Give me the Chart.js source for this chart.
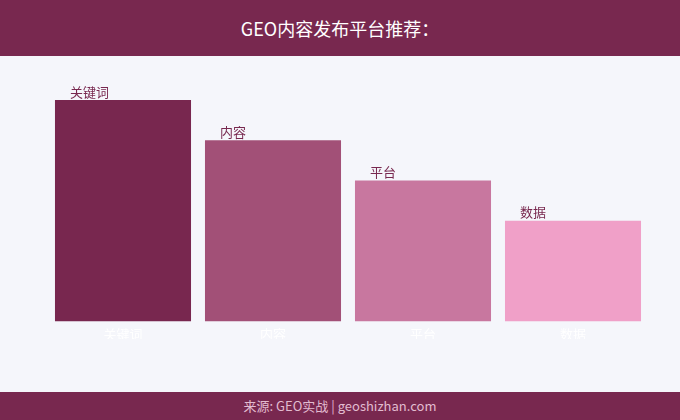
<!DOCTYPE html>
<html>
<head>
<meta charset="utf-8">
<script src="https://cdn.jsdelivr.net/npm/chart.js@4/dist/chart.umd.min.js"></script>
<style>
	html, body { margin: 0; padding: 0; }
	body { width: 680px; height: 420px; background: #f5f6fb; font-family: "Noto Sans CJK SC", "Noto Sans", sans-serif; position: relative; overflow: hidden; }
	.header { position: absolute; left: 0; top: 0; width: 680px; height: 56px; background: #78284f; color: #fff; font-size: 18px; line-height: 56px; text-align: center; }
	.footer { position: absolute; left: 0; top: 392px; width: 680px; height: 28px; background: #78284f; color: #e2bcd0; font-size: 13px; line-height: 28px; text-align: center; }
	.wrap { position: absolute; left: 0; top: 56px; width: 680px; height: 336px; }
</style>
</head>
<body>
<div class="header">GEO内容发布平台推荐：</div>
<div class="wrap"><canvas id="chart"></canvas></div>
<div class="footer">来源: GEO实战 | geoshizhan.com</div>
<script>
const categories = [ '关键词', '内容', '平台', '数据' ];
const scores = [ 5.5, 4.5, 3.5, 2.5 ];
const barColors = [ '#78274f', '#a25077', '#c8779f', '#f0a0c8' ];

// 柱子上方左对齐的标签
const barLabels = {
	id : 'barLabels',
	afterDatasetsDraw(chart) {
		const ctx = chart.ctx;
		const meta = chart.getDatasetMeta(0);
		ctx.save();
		ctx.font = '13px "Noto Sans CJK SC"';
		ctx.fillStyle = '#78284f';
		ctx.textAlign = 'left';
		ctx.textBaseline = 'bottom';
		meta.data.forEach((bar, i) => {
			ctx.fillText(categories[i], bar.x - bar.width / 2 + 15, bar.y - 2);
		});
		ctx.restore();
	}
};

let ctx = document.getElementById('chart').getContext('2d');
let barChart = new Chart(ctx, {
	type : 'bar',
	data : {
		labels : categories,
		datasets : [ {
			data : scores,
			backgroundColor : barColors,
			borderWidth : 0,
			categoryPercentage : 1,
			barPercentage : 0.907
		} ]
	},
	options : {
		responsive : true,
		maintainAspectRatio : false,
		animation : false,
		layout : { padding : { left : 48, right : 32, top : 24, bottom : 53 } },
		plugins : {
			legend : { display : false },
			tooltip : { enabled : false }
		},
		scales : {
			x : {
				grid : { display : false },
				border : { display : false },
				ticks : { color : '#ffffff', font : { size : 13, family : '"Noto Sans CJK SC"' }, padding : -3 }
			},
			y : {
				display : false,
				min : 0,
				max : 6
			}
		}
	},
	plugins : [ barLabels ]
});
</script>
</body>
</html>
